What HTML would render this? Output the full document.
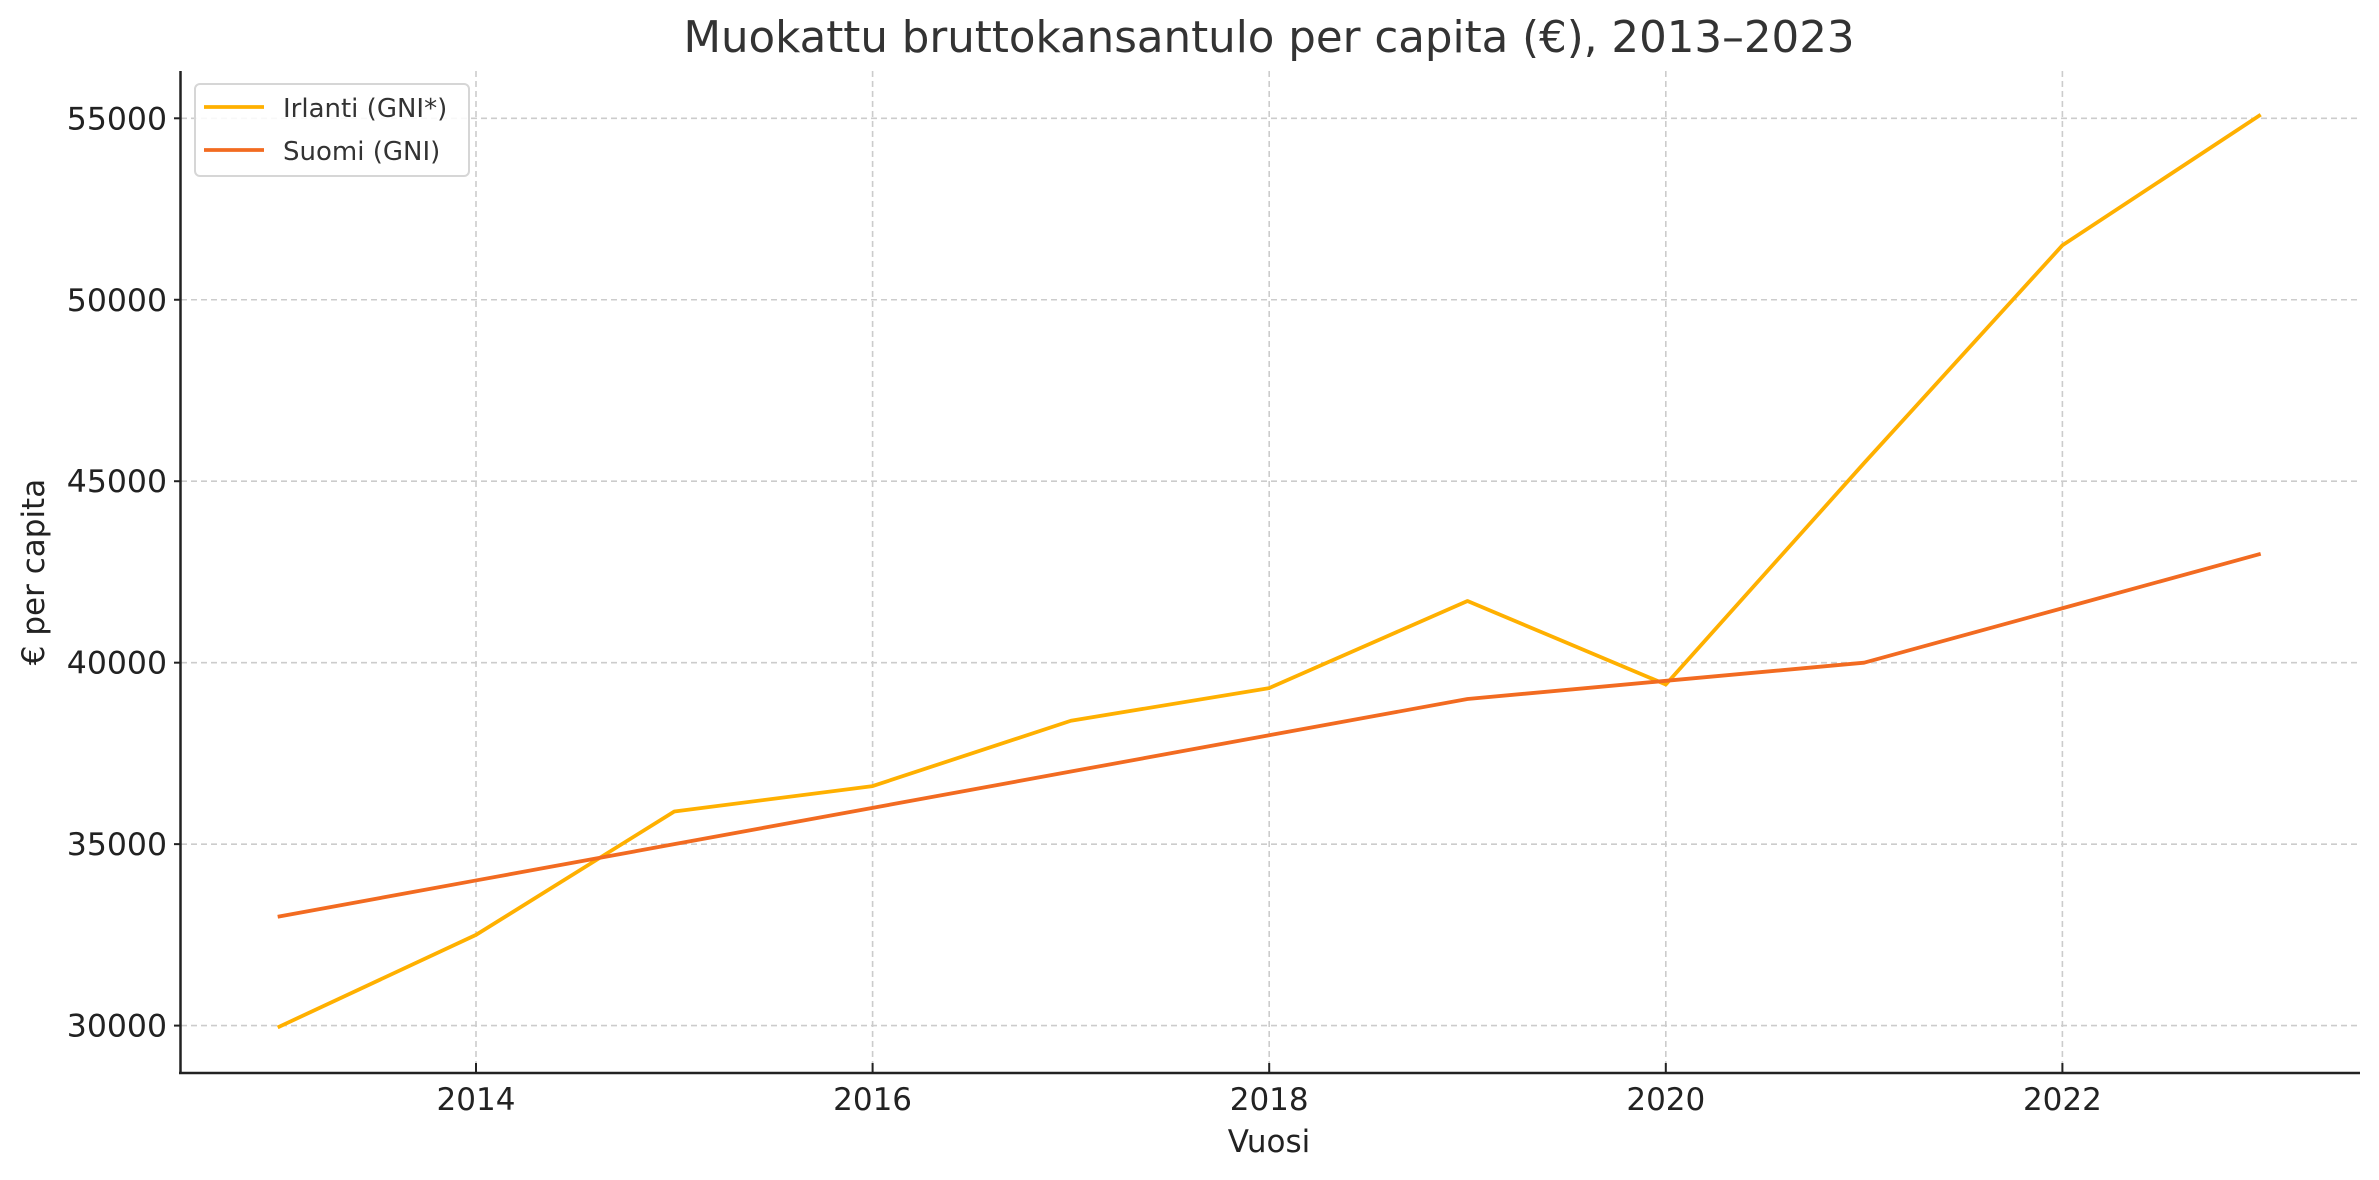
<!DOCTYPE html>
<html><head><meta charset="utf-8"><style>
html,body{margin:0;padding:0;background:#fff;}
svg{display:block;font-family:"DejaVu Sans","Liberation Sans",sans-serif;}
</style></head><body>
<svg id="chart" width="2379" height="1180" viewBox="0 0 2379 1180" xmlns="http://www.w3.org/2000/svg">
<rect width="2379" height="1180" fill="#fff"/>
<text x="1269" y="52" text-anchor="middle" font-size="43.5" fill="#333">Muokattu bruttokansantulo per capita (€), 2013–2023</text>
<g id="grid"></g>
<g id="series"></g>
<line x1="180.5" y1="71" x2="180.5" y2="1073" stroke="#222" stroke-width="2.5"/>
<line x1="179" y1="1073" x2="2360" y2="1073" stroke="#222" stroke-width="2.5"/>
<g id="ticks"></g>
<text x="1269" y="1152" text-anchor="middle" font-size="31" fill="#222">Vuosi</text>
<text transform="translate(44,572) rotate(-90)" text-anchor="middle" font-size="31" fill="#222">€ per capita</text>
<g>
<rect x="195" y="84" width="274" height="92" rx="5" fill="#fff" fill-opacity="0.85" stroke="#d6d6d6" stroke-width="2"/>
<line x1="204" y1="107" x2="264" y2="107" stroke="#FFB000" stroke-width="3.8"/>
<text x="283" y="117" font-size="26" fill="#333">Irlanti (GNI*)</text>
<line x1="204" y1="150" x2="264" y2="150" stroke="#F26B21" stroke-width="3.8"/>
<text x="283" y="160" font-size="26" fill="#333">Suomi (GNI)</text>
</g>
</svg>
<script>
const years = [2013,2014,2015,2016,2017,2018,2019,2020,2021,2022,2023];
const irlanti = [29950,32500,35900,36600,38400,39300,41700,39400,45500,51500,55100];
const suomi = [33000,34000,35000,36000,37000,38000,39000,39500,40000,41500,43000];
const yTicks = [30000,35000,40000,45000,50000,55000];
const xTicks = [2014,2016,2018,2020,2022];
const NS = "http://www.w3.org/2000/svg";
function xs(yr){return 476 + (yr-2014)*198.3;}
function ys(v){return 118.3 + (55000-v)/5000*181.46;}
const grid = document.getElementById('grid');
const ticks = document.getElementById('ticks');
const series = document.getElementById('series');
yTicks.forEach(v=>{
  const g = document.createElementNS(NS,'line');
  
  
  g.setAttribute('x1',181);g.setAttribute('x2',2359);g.setAttribute('y1',ys(v));g.setAttribute('y2',ys(v));
  g.setAttribute('stroke','#cccccc');g.setAttribute('stroke-width','1.6');g.setAttribute('stroke-dasharray','6,4');
  grid.appendChild(g);
  const t = document.createElementNS(NS,'line');
  
  
  t.setAttribute('x1',174);t.setAttribute('x2',181);t.setAttribute('y1',ys(v));t.setAttribute('y2',ys(v));
  t.setAttribute('stroke','#222');t.setAttribute('stroke-width','2');
  ticks.appendChild(t);
  const l = document.createElementNS(NS,'text');
  
  
  l.setAttribute('x',167);l.setAttribute('y',ys(v)+11);l.setAttribute('text-anchor','end');
  l.setAttribute('font-size','31.5');l.setAttribute('fill','#222');
  l.textContent = v;
  ticks.appendChild(l);
});
xTicks.forEach(yr=>{
  const g = document.createElementNS(NS,'line');
  
  
  g.setAttribute('x1',xs(yr));g.setAttribute('x2',xs(yr));g.setAttribute('y1',71);g.setAttribute('y2',1072);
  g.setAttribute('stroke','#cccccc');g.setAttribute('stroke-width','1.6');g.setAttribute('stroke-dasharray','6,4');
  grid.appendChild(g);
  const t = document.createElementNS(NS,'line');
  
  
  t.setAttribute('x1',xs(yr));t.setAttribute('x2',xs(yr));t.setAttribute('y1',1063);t.setAttribute('y2',1073);
  t.setAttribute('stroke','#222');t.setAttribute('stroke-width','2');
  ticks.appendChild(t);
  const l = document.createElementNS(NS,'text');
  
  
  l.setAttribute('x',xs(yr));l.setAttribute('y',1110);l.setAttribute('text-anchor','middle');
  l.setAttribute('font-size','31');l.setAttribute('fill','#222');
  l.textContent = yr;
  ticks.appendChild(l);
});
function drawLine(vals,color,name){
  const p = document.createElementNS(NS,'polyline');
  
  
  p.setAttribute('points',vals.map((v,i)=>xs(years[i])+','+ys(v)).join(' '));
  p.setAttribute('fill','none');p.setAttribute('stroke',color);p.setAttribute('stroke-width','3.8');
  p.setAttribute('stroke-linejoin','round');
  series.appendChild(p);
}
drawLine(irlanti,'#FFB000','line-irlanti');
drawLine(suomi,'#F26B21','line-suomi');
</script>
</body></html>
